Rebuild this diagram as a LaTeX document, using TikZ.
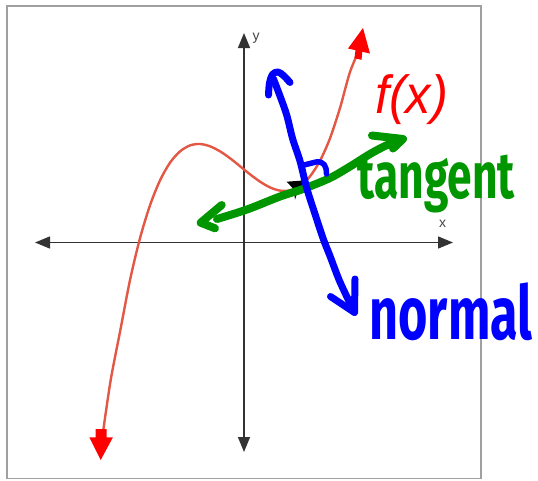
\documentclass[tikz,border=0pt]{standalone}
\usepackage{graphicx}
\usepackage{fontspec}
\setmainfont{Liberation Sans}
\newfontfamily\handfont{Fira Sans}
\usetikzlibrary{arrows.meta}
\definecolor{curvered}{RGB}{226,88,68}
\definecolor{tipred}{RGB}{255,0,0}
\definecolor{axisgray}{RGB}{51,51,51}
\definecolor{labelgray}{RGB}{70,70,70}
\definecolor{framegray}{RGB}{160,160,160}
\definecolor{handgreen}{RGB}{0,150,0}
\definecolor{handblue}{RGB}{0,0,255}
\begin{document}
\begin{tikzpicture}[x=1pt,y=-1pt,
  axisline/.style={draw=axisgray, line width=1.4pt,
    {Triangle[length=15pt,width=12pt]}-{Triangle[length=15pt,width=12pt]}},
  axislabel/.style={inner sep=0pt, text=labelgray, font=\fontsize{14}{14}\selectfont},
  curveline/.style={draw=curvered, line width=2.4pt, line cap=round},
  tiparrow/.style={fill=tipred},
  tangentline/.style={draw=handgreen, line width=8pt, line cap=round, line join=round},
  normalline/.style={draw=handblue, line width=7pt, line cap=round, line join=round},
  handlabel/.style={inner sep=0pt}
]
% canvas and frame
\fill[white] (0,0) rectangle (538,480);
\useasboundingbox (0,0) rectangle (538,480);
\draw[framegray, line width=1.5pt] (7,6) rectangle (481,478.5);

% axes
\coordinate (xl) at (35,242.5);
\coordinate (xr) at (453,242.5);
\coordinate (yt) at (244,33);
\coordinate (yb) at (244,452);
\draw[axisline] (xl) -- (xr);
\draw[axisline] (yb) -- (yt);
\node[axislabel] (xlab) at (442.7,223.5) {x};
\node[axislabel] (ylab) at (256,38.5) {y};

% the function f(x)
\draw[curveline] plot[smooth, tension=0.5] coordinates {
  (103.3,430) (110.7,380) (120,331.9) (130,280.1) (140,238.2) (150,205.3)
  (160,180.4) (170,162.7) (180,151.4) (190,145.4) (200,144.0) (210,146.3)
  (220,151.3) (230,158.2) (240,166.2) (250,174.3) (260,181.6) (270,187.4)
  (280,190.6) (290,190.4) (300,186.0) (310,176.4) (320,160.8) (330,138.3)
  (340,108.0) (345,89.6) (350,72) (356,57)};
% bottom arrow head
\fill[tiparrow] (100.7,460) -- (112.9,437.3) -- (106.7,437.3) -- (106.7,429)
  -- (95.7,429) -- (95.7,437.3) -- (89.3,437.3) -- cycle;
% top arrow head
\fill[tiparrow] (363,28) -- (370,53.5) -- (362.3,51.8) -- (361.5,59.8)
  -- (354.5,58.2) -- (355.5,50.2) -- (348,48.5) -- cycle;

% black marker at the point of tangency
\fill[black] (286.7,181.7) -- (303,180.5) -- (306,186) -- (297.5,192)
  -- (295,199.5) -- (293.5,189) -- cycle;

% tangent line (green)
\coordinate (tl) at (200.7,222.7);
\coordinate (tr) at (403,139);
\draw[tangentline] plot[smooth, tension=0.5] coordinates {
  (217,219) (247,209.5) (280,196.5) (303,189) (330,178) (350,166.5)
  (370,154) (385,146) (401,139)};
\draw[tangentline] (221.7,205) -- (tl) -- (215,228.3);
\draw[tangentline] (372,135.5) -- (tr) -- (393,148.5);

% normal line (blue)
\coordinate (nb) at (354.5,312.5);
\draw[normalline] plot[smooth, tension=0.5] coordinates {
  (273.5,79) (280,96) (286.7,115) (292.7,139) (300,161) (306.7,188)
  (315,214) (323.3,239) (330,256) (340,282) (354.5,312.5)};
\draw[normalline] plot[smooth, tension=0.6] coordinates {
  (268.5,95) (269.5,83) (272.5,74.5) (278,72) (284,76) (290,82.5)};
\draw[normalline] (330.5,296.5) -- (nb) -- (355,279);
% right-angle mark
\draw[handblue, line width=5.5pt, line cap=round, line join=round]
  (304,165) -- (316,162) .. controls (324,161) and (326.5,166) .. (326.5,174);

% labels
\node[handlabel, text=tipred] (fx) at (411.5,100)
  {\resizebox*{73pt}{50pt}{\itshape f(x)}};
\node[handlabel, text=handgreen] (tan) at (436.5,184.5)
  {\resizebox*{157pt}{58pt}{\handfont\bfseries tangent}};
\node[handlabel, text=handblue] (nor) at (451,311.5)
  {\resizebox*{163pt}{58pt}{\handfont\bfseries normal}};
\end{tikzpicture}
\end{document}
